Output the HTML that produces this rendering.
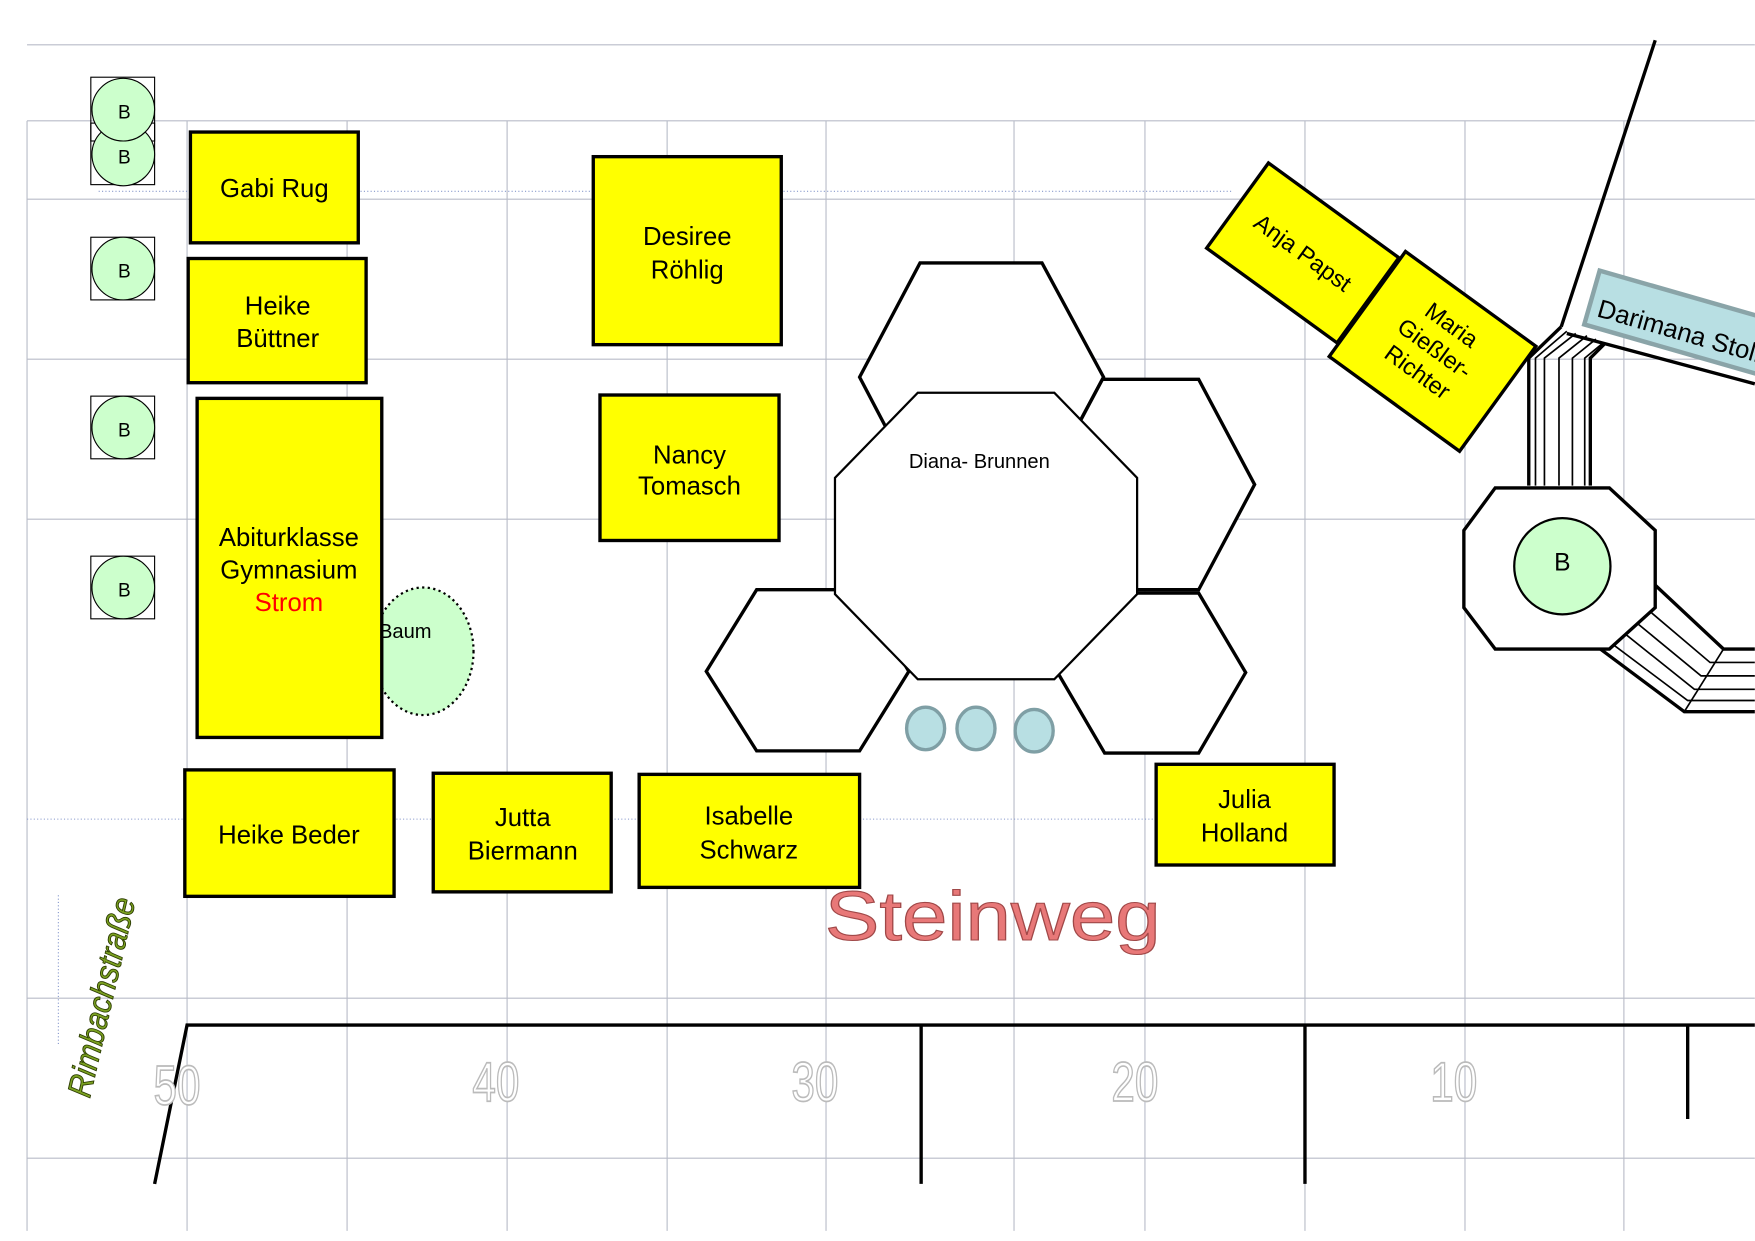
<!DOCTYPE html>
<html><head><meta charset="utf-8"><style>
html,body{margin:0;padding:0;background:#fff;overflow:hidden}
svg{display:block}
text{font-family:"Liberation Sans",sans-serif}
</style></head><body>
<svg width="1755" height="1241" viewBox="0 0 1568 1109" xmlns="http://www.w3.org/2000/svg">
<g stroke="#b8bcc8" stroke-width="1" fill="none">
<line x1="24" y1="40" x2="1568" y2="40"/>
<line x1="24" y1="108" x2="1568" y2="108"/>
<line x1="24" y1="178" x2="1568" y2="178"/>
<line x1="24" y1="321" x2="1568" y2="321"/>
<line x1="24" y1="464" x2="1568" y2="464"/>
<line x1="24" y1="892" x2="1568" y2="892"/>
<line x1="24" y1="1035" x2="1568" y2="1035"/>
<line x1="24" y1="108" x2="24" y2="1100"/>
<line x1="167" y1="108" x2="167" y2="1100"/>
<line x1="310" y1="108" x2="310" y2="1100"/>
<line x1="453" y1="108" x2="453" y2="1100"/>
<line x1="596" y1="108" x2="596" y2="1100"/>
<line x1="738" y1="108" x2="738" y2="1100"/>
<line x1="906" y1="108" x2="906" y2="1100"/>
<line x1="1023" y1="108" x2="1023" y2="1100"/>
<line x1="1166" y1="108" x2="1166" y2="1100"/>
<line x1="1309" y1="108" x2="1309" y2="1100"/>
<line x1="1451" y1="108" x2="1451" y2="1100"/>
</g>
<g stroke="#8899cc" stroke-width="1" stroke-dasharray="1,2" fill="none">
<line x1="88" y1="171" x2="1100" y2="171"/>
<line x1="24" y1="732" x2="1050" y2="732"/>
<line x1="52" y1="800" x2="52" y2="935"/>
</g>
<g stroke="#000" stroke-width="1">
<rect x="81" y="69" width="57" height="57" fill="none"/>
<rect x="81" y="110" width="57" height="55" fill="none"/>
<circle cx="110" cy="138" r="28" fill="#ccffcc"/>
<circle cx="110" cy="98" r="28" fill="#ccffcc"/>
<rect x="81" y="212" width="57" height="56" fill="none"/>
<circle cx="110" cy="240" r="28" fill="#ccffcc"/>
<rect x="81" y="354" width="57" height="56" fill="none"/>
<circle cx="110" cy="382" r="28" fill="#ccffcc"/>
<rect x="81" y="497" width="57" height="56" fill="none"/>
<circle cx="110" cy="525" r="28" fill="#ccffcc"/>
</g>
<g font-size="17" text-anchor="middle" fill="#000">
<text x="111" y="146">B</text><text x="111" y="106">B</text>
<text x="111" y="248">B</text><text x="111" y="390">B</text><text x="111" y="533">B</text>
</g>
<ellipse cx="378" cy="582" rx="45" ry="57" fill="#ccffcc" stroke="#000" stroke-width="2" stroke-dasharray="2,3"/>
<text x="362" y="570" font-size="18" text-anchor="middle" font-family="DejaVu Sans">Baum</text>
<g fill="#ffff00" stroke="#000" stroke-width="3">
<rect x="170" y="118" width="150" height="99"/>
<rect x="168" y="231" width="159" height="111"/>
<rect x="176" y="356" width="165" height="303"/>
<rect x="530" y="140" width="168" height="168"/>
<rect x="536" y="353" width="160" height="130"/>
<rect x="165" y="688" width="187" height="113"/>
<rect x="387" y="691" width="159" height="106"/>
<rect x="571" y="692" width="197" height="101"/>
<rect x="1033" y="683" width="159" height="90"/>
</g>
<g font-size="23" text-anchor="middle" fill="#000">
<text x="245" y="176">Gabi Rug</text>
<text x="248" y="281">Heike</text><text x="248" y="310">Büttner</text>
<text x="258" y="488">Abiturklasse</text><text x="258" y="517">Gymnasium</text><text x="258" y="546" fill="#ff0000">Strom</text>
<text x="614" y="219">Desiree</text><text x="614" y="249">Röhlig</text>
<text x="616" y="414">Nancy</text><text x="616" y="442">Tomasch</text>
<text x="258" y="754">Heike Beder</text>
<text x="467" y="738">Jutta</text><text x="467" y="768">Biermann</text>
<text x="669" y="737">Isabelle</text><text x="669" y="767">Schwarz</text>
<text x="1112" y="722">Julia</text><text x="1112" y="752">Holland</text>
</g>
<g transform="translate(1164,226) rotate(36)">
<rect x="-72" y="-47" width="144" height="94" fill="#ffff00" stroke="#000" stroke-width="3"/>
<text x="0" y="7" font-size="21" text-anchor="middle">Anja Papst</text>
</g>
<g transform="translate(1280,314) rotate(36)">
<rect x="-72" y="-58" width="144" height="116" fill="#ffff00" stroke="#000" stroke-width="3"/>
<text x="0" y="-22" font-size="21" text-anchor="middle">Maria</text>
<text x="0" y="4" font-size="21" text-anchor="middle">Gießler-</text>
<text x="0" y="30" font-size="21" text-anchor="middle">Richter</text>
</g>
<line x1="1479" y1="36" x2="1395" y2="292" stroke="#000" stroke-width="3"/>
<line x1="1400" y1="298" x2="1568" y2="343" stroke="#000" stroke-width="3"/>
<g transform="rotate(16 1420 260)">
<rect x="1424" y="240" width="200" height="50" fill="#b8dfe3" stroke="#8aa4a8" stroke-width="4"/>
<text x="1432" y="280" font-size="23">Darimana Stoll</text>
</g>
<g stroke="#000" fill="none">
<path d="M1366 434 V320 L1395 292" stroke-width="3"/>
<path d="M1372 434 V320 L1400 296" stroke-width="1.5"/>
<path d="M1380 434 V320 L1408 298" stroke-width="1.5"/>
<path d="M1393 434 V320 L1418 300" stroke-width="1.5"/>
<path d="M1405 434 V320 L1426 303" stroke-width="1.5"/>
<path d="M1416 434 V320 L1433 306" stroke-width="1.5"/>
<path d="M1421 434 V320 L1434 307" stroke-width="3"/>
</g>
<g stroke="#000" fill="none">
<path d="M1478 522 L1540 580 H1568" stroke-width="3"/>
<path d="M1430 580 L1505 636 H1568" stroke-width="3"/>
<path d="M1540 580 L1505 636" stroke-width="1.5"/>
<path d="M1462 536 L1528 592 H1568" stroke-width="1.5"/>
<path d="M1452 548 L1520 604 H1568" stroke-width="1.5"/>
<path d="M1444 560 L1514 616 H1568" stroke-width="1.5"/>
<path d="M1436 572 L1508 626 H1568" stroke-width="1.5"/>
</g>
<polygon points="1336,436 1438,436 1479,474 1479,543 1438,580 1336,580 1308,543 1308,474" fill="#fff" stroke="#000" stroke-width="3"/>
<circle cx="1396" cy="506" r="43" fill="#ccffcc" stroke="#000" stroke-width="2"/>
<text x="1396" y="510" font-size="22" text-anchor="middle">B</text>
<g fill="#fff" stroke="#000" stroke-width="3">
<polygon points="822,235 931,235 986,337 931,440 822,440 768,337"/>
<polygon points="985,339 1071,339 1121,433 1071,527 985,527 935,433"/>
<polygon points="995,530 1071,530 1113,601 1071,673 987,673 945,601"/>
<polygon points="676,527 768,527 812,600 768,671 676,671 631,600"/>
<polygon points="820,351 942,351 1016,427 1016,531 942,607 820,607 746,531 746,427" stroke-width="2"/>
</g>
<text x="875" y="418" font-size="18" text-anchor="middle" font-family="DejaVu Sans">Diana- Brunnen</text>
<g fill="#b8dfe3" stroke="#7f9fa5" stroke-width="3">
<ellipse cx="827" cy="651" rx="17" ry="19"/>
<ellipse cx="872" cy="651" rx="17" ry="19"/>
<ellipse cx="924" cy="653" rx="17" ry="19"/>
</g>
<text x="737" y="840" font-size="62" fill="#e87878" stroke="#a04848" stroke-width="1" font-family="DejaVu Sans" textLength="300" lengthAdjust="spacingAndGlyphs">Steinweg</text>
<text transform="translate(80,982) rotate(-77)" font-size="30" fill="#7aa020" stroke="#2a3a00" stroke-width="0.8" font-style="italic" font-family="DejaVu Sans Condensed,DejaVu Sans" textLength="182" lengthAdjust="spacingAndGlyphs">Rimbachstraße</text>
<g stroke="#000" stroke-width="3" fill="none">
<path d="M138 1058 L167 916 H1568"/>
<line x1="823" y1="916" x2="823" y2="1058"/>
<line x1="1166" y1="916" x2="1166" y2="1058"/>
<line x1="1508" y1="916" x2="1508" y2="1000"/>
</g>
<g font-size="50" fill="#fff" stroke="#bbb" stroke-width="1.5" text-anchor="middle" font-family="DejaVu Sans Condensed,DejaVu Sans">
<text x="158" y="987" textLength="42" lengthAdjust="spacingAndGlyphs">50</text>
<text x="443" y="984" textLength="42" lengthAdjust="spacingAndGlyphs">40</text>
<text x="728" y="984" textLength="42" lengthAdjust="spacingAndGlyphs">30</text>
<text x="1014" y="984" textLength="42" lengthAdjust="spacingAndGlyphs">20</text>
<text x="1299" y="984" textLength="42" lengthAdjust="spacingAndGlyphs">10</text>
</g>
</svg>
</body></html>
